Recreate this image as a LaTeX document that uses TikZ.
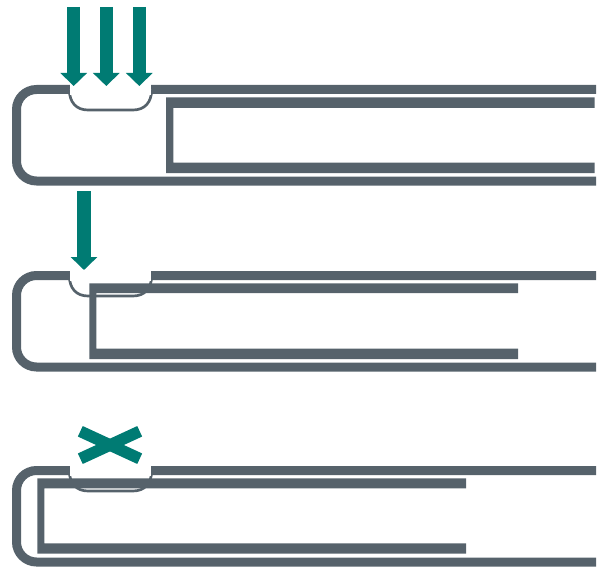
\documentclass[tikz,border=0pt]{standalone}
\usepackage{xcolor}
\usetikzlibrary{arrows.meta}
\definecolor{slate}{HTML}{56626B}
\definecolor{tealdark}{HTML}{007B73}
\tikzset{
  shell/.style={draw=slate,line width=6.75pt,rounded corners=15pt},
  recess/.style={draw=slate,line width=2pt,fill=white},
  jet/.style={draw=tealdark,line width=10pt,-{Triangle[length=9.75pt,width=19.5pt]}},
  crossbar/.style={draw=tealdark,line width=8.7pt},
}
\begin{document}
\begin{tikzpicture}[x=0.75pt,y=-0.75pt]
\useasboundingbox (0,0) rectangle (600,567);
\foreach \dy in {0,186,381} {
\begin{scope}[shift={(0,\dy)}]
\draw[shell] (596,89.5) -- (16.5,89.5) -- (16.5,181) -- (596,181);
\draw[recess] (69.3,90) .. controls (69.5,102) and (76,110) .. (88,110) -- (133,110) .. controls (145,110) and (151.5,102) .. (151.7,90);
\fill[white] (70,84) rectangle (151,95);
\end{scope}
}
\fill[slate] (594.7,97.4) -- (166,97.4) -- (166,173.2) -- (594.7,173.2) -- (594.7,162.7) -- (173.3,162.7) -- (173.3,107.8) -- (594.7,107.8) -- cycle;
\fill[slate] (518,283.3) -- (89.3,283.3) -- (89.3,359) -- (518,359) -- (518,348.7) -- (96.3,348.7) -- (96.3,293.2) -- (518,293.2) -- cycle;
\fill[slate] (466,478.3) -- (37.3,478.3) -- (37.3,553.7) -- (466,553.7) -- (466,543.3) -- (44.3,543.3) -- (44.3,488.3) -- (466,488.3) -- cycle;
\foreach \ax in {73.7,106.3,139.3}
  \draw[jet] (\ax,7) -- (\ax,86);
\draw[jet] (84,191) -- (84,270);
\draw[crossbar] (80.3,431.3) -- (139.7,458.7);
\draw[crossbar] (139.7,431.3) -- (80.3,458.7);
\end{tikzpicture}
\end{document}
